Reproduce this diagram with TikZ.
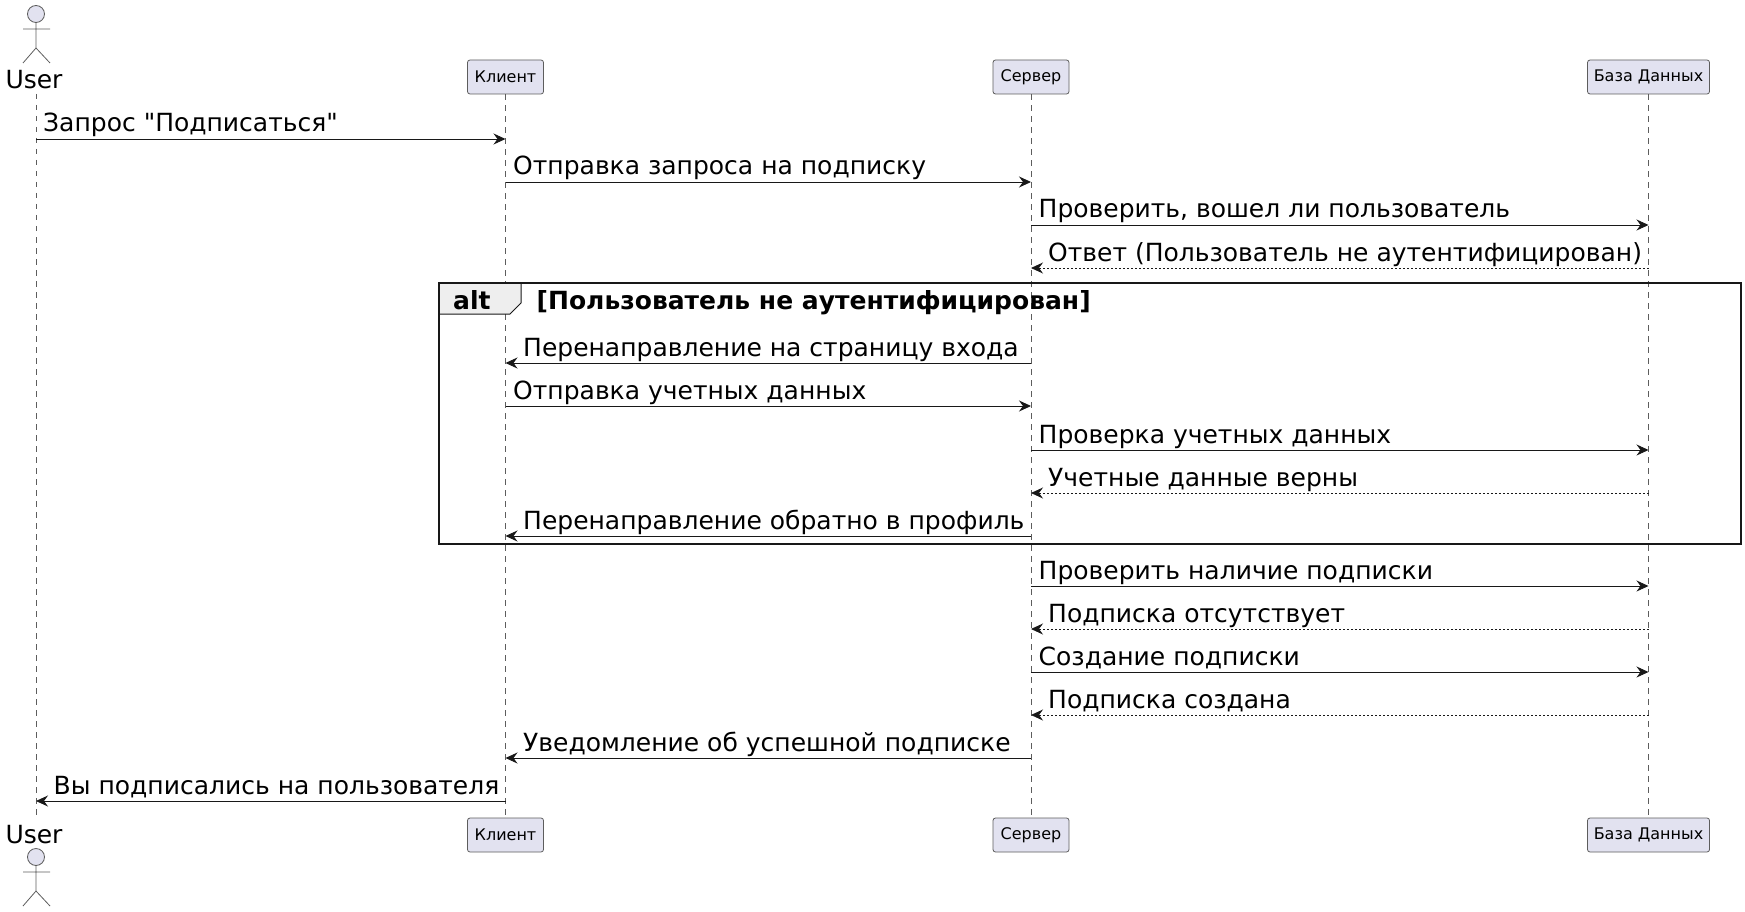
\documentclass[tikz,border=0pt]{standalone}
\usepackage{fontspec}
\setmainfont{DejaVu Sans}
\newfontfamily\rawfont{DejaVu Sans}
\usetikzlibrary{arrows.meta}
\definecolor{pfill}{HTML}{E2E2F0}
\definecolor{pline}{HTML}{181818}
\definecolor{tabfill}{HTML}{EEEEEE}
\tikzset{
  partbox/.style={draw=pline!70,fill=pfill,line width=0.8pt,rounded corners=2.5pt,inner sep=0pt,minimum height=34pt,font=\fontsize{16}{18}\selectfont},
  stick/.style={draw=pline!70,line width=0.8pt},
  lifeline/.style={draw=pline!70,line width=0.8pt,dash pattern=on 5.5pt off 5.5pt},
  msg/.style={draw=pline,line width=0.9pt,-{Stealth[length=12pt,width=11pt,inset=4pt]}},
  ret/.style={draw=pline,line width=0.9pt,dash pattern=on 2pt off 2pt,-{Stealth[length=12pt,width=11pt,inset=4pt]}},
  lbl/.style={anchor=base west,inner sep=0pt,yshift=-1pt,font=\fontsize{25}{27}\selectfont},
  actlbl/.style={anchor=base,inner sep=0pt,yshift=-1pt,font=\fontsize{25}{27}\selectfont},
  frameln/.style={draw=pline,line width=2pt},
  blbl/.style={anchor=base west,inner sep=0pt,yshift=-1pt,font=\fontsize{25}{27}\selectfont\bfseries},
}
\begin{document}
\begin{tikzpicture}[x=1pt,y=-1pt]
\useasboundingbox (0,0) rectangle (1745,912);
% lifeline anchor coordinates
\coordinate (uT) at (36,94); \coordinate (uB) at (36,818);
\coordinate (m1) at (0,139); \coordinate (m2) at (0,182); \coordinate (m3) at (0,225); \coordinate (m4) at (0,268);
\coordinate (m5) at (0,363); \coordinate (m6) at (0,406); \coordinate (m7) at (0,450); \coordinate (m8) at (0,493); \coordinate (m9) at (0,536);
\coordinate (m10) at (0,586); \coordinate (m11) at (0,629); \coordinate (m12) at (0,672); \coordinate (m13) at (0,715); \coordinate (m14) at (0,758); \coordinate (m15) at (0,801);
% participants
\node[partbox,minimum width=76pt] (kT) at (505.5,77) {Клиент};
\node[partbox,minimum width=76pt] (sT) at (1031,77) {Сервер};
\node[partbox,minimum width=122pt] (dT) at (1648.5,77) {База Данных};
\node[partbox,minimum width=76pt] (kB) at (505.5,835) {Клиент};
\node[partbox,minimum width=76pt] (sB) at (1031,835) {Сервер};
\node[partbox,minimum width=122pt] (dB) at (1648.5,835) {База Данных};
% lifelines
\draw[lifeline] (uT) -- (uB);
\draw[lifeline] (kT) -- (kB);
\draw[lifeline] (sT) -- (sB);
\draw[lifeline] (dT) -- (dB);
% actors
\node[actlbl] (userT) at (34,88) {User};
\draw[stick,fill=pfill] (36,14) circle (8.5);
\draw[stick] (36,22.5) -- (36,48) (23,29) -- (50,29) (23,63) -- (36,48) -- (50,63);
\node[actlbl] (userB) at (34,842) {User};
\draw[stick,fill=pfill] (36,857) circle (8.5);
\draw[stick] (36,865.5) -- (36,891) (23,872) -- (50,872) (23,906) -- (36,891) -- (50,906);
% alt frame
\fill[tabfill] (438.5,283) -- (521,283) -- (521,303) -- (510,314) -- (438.5,314) -- cycle;
\draw[draw=pline,line width=1pt] (521,283) -- (521,303) -- (510,314) -- (438.5,314);
\draw[frameln] (438.5,283) rectangle (1741,544);
\node[blbl] (altk) at (453,308) {alt};
\node[blbl] (altc) at (536.5,308) {[Пользователь не аутентифицирован]};
% messages
\draw[msg] (uT|-m1) -- (kT|-m1);
\node[lbl] (t1) at (43,131) {Запрос {\rawfont"}Подписаться{\rawfont"}};
\draw[msg] (kT|-m2) -- (sT|-m2);
\node[lbl] (t2) at (513,174) {Отправка запроса на подписку};
\draw[msg] (sT|-m3) -- (dT|-m3);
\node[lbl] (t3) at (1038.5,217) {Проверить, вошел ли пользователь};
\draw[ret] (dT|-m4) -- (sT|-m4);
\node[lbl] (t4) at (1048,260) {Ответ (Пользователь не аутентифицирован)};
\draw[msg] (sT|-m5) -- (kT|-m5);
\node[lbl] (t5) at (523,355) {Перенаправление на страницу входа};
\draw[msg] (kT|-m6) -- (sT|-m6);
\node[lbl] (t6) at (513,398) {Отправка учетных данных};
\draw[msg] (sT|-m7) -- (dT|-m7);
\node[lbl] (t7) at (1038.5,442) {Проверка учетных данных};
\draw[ret] (dT|-m8) -- (sT|-m8);
\node[lbl] (t8) at (1048,485) {Учетные данные верны};
\draw[msg] (sT|-m9) -- (kT|-m9);
\node[lbl] (t9) at (523,528) {Перенаправление обратно в профиль};
\draw[msg] (sT|-m10) -- (dT|-m10);
\node[lbl] (t10) at (1038.5,578) {Проверить наличие подписки};
\draw[ret] (dT|-m11) -- (sT|-m11);
\node[lbl] (t11) at (1048,621) {Подписка отсутствует};
\draw[msg] (sT|-m12) -- (dT|-m12);
\node[lbl] (t12) at (1038.5,664) {Создание подписки};
\draw[ret] (dT|-m13) -- (sT|-m13);
\node[lbl] (t13) at (1048,707) {Подписка создана};
\draw[msg] (sT|-m14) -- (kT|-m14);
\node[lbl] (t14) at (523,750) {Уведомление об успешной подписке};
\draw[msg] (kT|-m15) -- (uT|-m15);
\node[lbl] (t15) at (53.5,793) {Вы подписались на пользователя};
\end{tikzpicture}
\end{document}
